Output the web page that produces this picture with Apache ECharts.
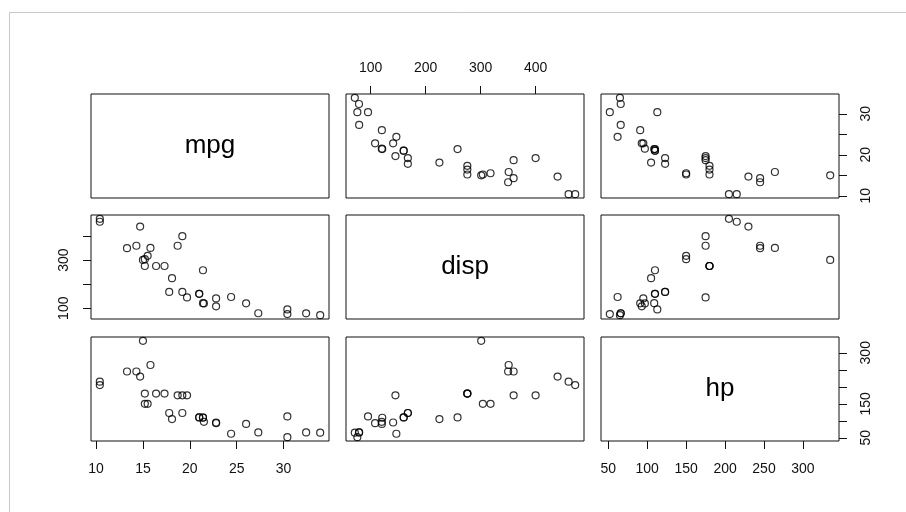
<!DOCTYPE html>
<html>
<head>
<meta charset="utf-8">
<script src="https://cdn.jsdelivr.net/npm/echarts@6/dist/echarts.min.js"></script>
<style>
html,body{margin:0;padding:0;background:#fff;}
#chart{width:906px;height:512px;}
</style>
</head>
<body>
<div id="chart"></div>
<script>
// mtcars data
const mpg = [21.0, 21.0, 22.8, 21.4, 18.7, 18.1, 14.3, 24.4, 22.8, 19.2, 17.8, 16.4, 17.3, 15.2, 10.4, 10.4, 14.7, 32.4, 30.4, 33.9, 21.5, 15.5, 15.2, 13.3, 19.2, 27.3, 26.0, 30.4, 15.8, 19.7, 15.0, 21.4];
const disp = [160, 160, 108, 258, 360, 225, 360, 146.7, 140.8, 167.6, 167.6, 275.8, 275.8, 275.8, 472, 460, 440, 78.7, 75.7, 71.1, 120.1, 318, 304, 350, 400, 79, 120.3, 95.1, 351, 145, 301, 121];
const hp = [110, 110, 93, 110, 175, 105, 245, 62, 95, 123, 123, 180, 180, 180, 205, 215, 230, 66, 52, 65, 97, 150, 150, 245, 175, 66, 91, 113, 264, 175, 335, 109];

const varNames = ['mpg', 'disp', 'hp'];
const mpgTicks = [10, 15, 20, 25, 30];
const dispTicks = [100, 200, 300, 400];
const hpTicks = [50, 100, 150, 200, 250, 300];
const mpgXLabels = [10, 15, 20, 25, 30];
const dispXLabels = [100, 200, 300, 400];
const hpXLabels = [50, 100, 150, 200, 250, 300];
const mpgYLabels = [10, 20, 30];
const dispYLabels = [100, 300];
const hpYLabels = [50, 150, 300];

const vars = [mpg, disp, hp];
const ticks = [mpgTicks, dispTicks, hpTicks];
const xLabels = [mpgXLabels, dispXLabels, hpXLabels];
const yLabels = [mpgYLabels, dispYLabels, hpYLabels];

function ext(arr) {
  const mn = Math.min(...arr), mx = Math.max(...arr);
  const d = (mx - mn) * 0.04;
  return [mn - d, mx + d];
}
const ranges = vars.map(ext);

const colLeft = [91, 346, 601];
const rowTop = [94, 215, 337];
const W = 238, H = 104;
const FONT = 'Liberation Sans, Arial, sans-serif';

const grids = [], xAxes = [], yAxes = [], series = [], graphics = [];
let gi = 0;
for (let r = 0; r < 3; r++) {
  for (let c = 0; c < 3; c++) {
    grids.push({
      left: colLeft[c], top: rowTop[r], width: W, height: H,
      show: true, borderColor: '#111', borderWidth: 1, backgroundColor: 'transparent',
      containLabel: false, outerBoundsMode: 'none'
    });
    let showX = false, xPos = 'bottom';
    if (r === 2 && (c === 0 || c === 2)) { showX = true; xPos = 'bottom'; }
    if (r === 0 && c === 1) { showX = true; xPos = 'top'; }
    xAxes.push({
      type: 'value', gridIndex: gi, min: ranges[c][0], max: ranges[c][1], position: xPos,
      axisLine: { show: false }, splitLine: { show: false },
      axisTick: { show: showX, inside: false, length: 8, customValues: ticks[c], lineStyle: { color: '#111', width: 1 } },
      axisLabel: { show: showX, customValues: xLabels[c], margin: xPos === 'top' ? 19 : 21, fontSize: 14, fontFamily: FONT, color: '#111' }
    });
    let showY = false, yPos = 'left';
    if (c === 2 && (r === 0 || r === 2)) { showY = true; yPos = 'right'; }
    if (c === 0 && r === 1) { showY = true; yPos = 'left'; }
    yAxes.push({
      type: 'value', gridIndex: gi, min: ranges[r][0], max: ranges[r][1], position: yPos,
      axisLine: { show: false }, splitLine: { show: false },
      axisTick: { show: showY, inside: false, length: 8, customValues: ticks[r], lineStyle: { color: '#111', width: 1 } },
      axisLabel: { show: showY, customValues: yLabels[r], rotate: 90, margin: 20, fontSize: 14, fontFamily: FONT, color: '#111' }
    });
    if (r !== c) {
      const xs = vars[c], ys = vars[r];
      const data = xs.map((v, i) => [v, ys[i]]);
      series.push({
        type: 'scatter', xAxisIndex: gi, yAxisIndex: gi, data: data,
        symbol: 'circle', symbolSize: 7,
        itemStyle: { color: 'rgba(0,0,0,0)', borderColor: '#000', borderWidth: 1.2 },
        silent: true
      });
    } else {
      graphics.push({
        type: 'text', x: colLeft[c] + W / 2, y: rowTop[r] + H / 2,
        style: { text: varNames[r], font: '26px ' + FONT, fill: '#000', align: 'center', verticalAlign: 'middle' }
      });
    }
    gi++;
  }
}
// light gray frame
graphics.push({ type: 'line', shape: { x1: 9.5, y1: 12.5, x2: 906, y2: 12.5 }, style: { stroke: '#c8c8c8', lineWidth: 1 } });
graphics.push({ type: 'line', shape: { x1: 9.5, y1: 12.5, x2: 9.5, y2: 512 }, style: { stroke: '#c8c8c8', lineWidth: 1 } });

const chart = echarts.init(document.getElementById('chart'), null, { renderer: 'canvas' });
chart.setOption({
  animation: false,
  backgroundColor: '#fff',
  grid: grids, xAxis: xAxes, yAxis: yAxes, series: series,
  graphic: graphics
});
</script>
</body>
</html>
